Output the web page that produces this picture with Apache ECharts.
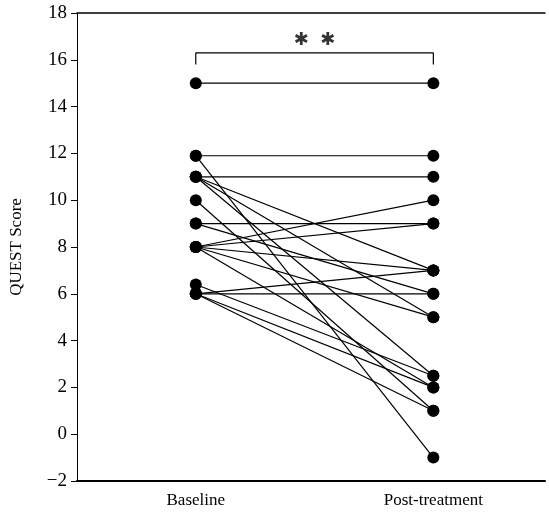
<!DOCTYPE html>
<html>
<head>
<meta charset="utf-8">
<script src="https://cdn.jsdelivr.net/npm/echarts@6/dist/echarts.min.js"></script>
<style>
  html, body { margin: 0; padding: 0; background: #fff; }
  #main { width: 549px; height: 518px; }
</style>
</head>
<body>
<div id="main"></div>
<script>
// categories on the x axis (index 0 and 1)
var categories = ['Baseline', 'Post-treatment'];
// one entry per subject: score at baseline and after treatment
var baseline      = [15, 11.9, 11.9, 11, 11, 11, 11, 10, 9, 9, 8, 8, 8, 8, 8, 6.4, 6, 6, 6, 6];
var postTreatment = [15, 11.9, -1,   11, 7,  5,  2.5, 1, 9, 6, 10, 9, 7, 5, 2, 2.5, 7, 6, 2, 1];
// y axis range
var yMin = -2, yMax = 18, yStep = 2;
// significance bracket
var bracketTop = 16.3, bracketLeg = 15.8, starY = 16.85, starText = '\u2731  \u2731';

var font = 'Liberation Serif, Times New Roman, serif';
var chart = echarts.init(document.getElementById('main'));

var series = [];
for (var i = 0; i < baseline.length; i++) {
  series.push({
    type: 'line',
    data: [[0, baseline[i]], [1, postTreatment[i]]],
    symbol: 'circle',
    symbolSize: 12,
    itemStyle: { color: '#000' },
    lineStyle: { color: '#000', width: 1.2 },
    silent: true,
    z: 3
  });
}

// bracket
series.push({
  type: 'line',
  data: [[0, bracketLeg], [0, bracketTop], [1, bracketTop], [1, bracketLeg]],
  symbol: 'none',
  lineStyle: { color: '#000', width: 1.2 },
  silent: true
});
// stars
series.push({
  type: 'scatter',
  data: [[0.5, starY]],
  symbolSize: 0,
  label: {
    show: true,
    position: 'inside',
    formatter: starText,
    color: '#000',
    fontSize: 18,
    fontFamily: 'DejaVu Sans'
  },
  silent: true
});

var option = {
  backgroundColor: '#fff',
  animation: false,
  grid: { left: 75, right: 4, top: 13, bottom: 37 },
  xAxis: [{
    type: 'value',
    min: -0.5,
    max: 1.47,
    interval: 0.5,
    splitLine: { show: false },
    axisTick: { show: false },
    axisLine: { onZero: false, lineStyle: { color: '#000', width: 2 } },
    axisLabel: {
      color: '#000',
      fontFamily: font,
      fontSize: 17,
      margin: 11,
      showMinLabel: true,
      showMaxLabel: false,
      formatter: function (v) {
        if (Math.abs(v) < 1e-6) return categories[0];
        if (Math.abs(v - 1) < 1e-6) return categories[1];
        return '';
      }
    }
  }, {
    type: 'value',
    position: 'top',
    min: -0.5,
    max: 1.47,
    splitLine: { show: false },
    axisTick: { show: false },
    axisLabel: { show: false },
    axisLine: { show: true, onZero: false, lineStyle: { color: '#000', width: 1.5 } }
  }],
  yAxis: {
    type: 'value',
    min: yMin,
    max: yMax,
    interval: yStep,
    name: 'QUEST Score',
    nameLocation: 'middle',
    nameGap: 52,
    nameTextStyle: { color: '#000', fontFamily: font, fontSize: 17 },
    splitLine: { show: false },
    axisLine: { show: true, onZero: false, lineStyle: { color: '#000', width: 1 } },
    axisTick: { show: true, length: 6, lineStyle: { color: '#000' } },
    axisLabel: {
      color: '#000',
      fontFamily: font,
      fontSize: 19,
      margin: 10,
      formatter: function (v) { return String(v).replace('-', '\u2212'); }
    }
  },
  series: series
};

chart.setOption(option);
</script>
</body>
</html>
